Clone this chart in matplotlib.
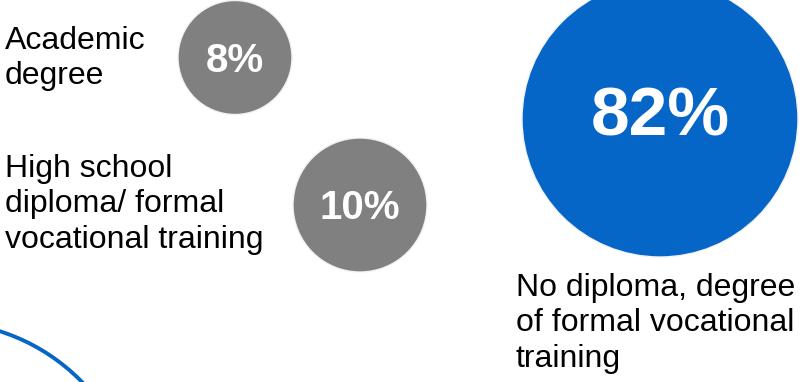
import matplotlib
matplotlib.use("Agg")
import matplotlib.pyplot as plt
from matplotlib.patches import Circle

# shares by highest qualification
categories = ["Academic\ndegree",
              "High school\ndiploma/ formal\nvocational training",
              "No diploma, degree\nof formal vocational\ntraining"]
shares = [8, 10, 82]
value_labels = ["%d%%" % v for v in shares]

# layout in pixel units (y grows downward)
centers = [(235, 57.5), (360, 205), (660, 119)]
radii = [57, 67, 138]
fill_colors = ["#808080", "#808080", "#0566C8"]
value_sizes = [29, 29, 50]
value_baselines = [72, 219, 135]
label_pos = [(5, 26), (5, 154), (516, 273)]

plt.rcParams["font.family"] = ["Liberation Sans", "DejaVu Sans"]

fig = plt.figure(figsize=(8.01, 3.82), dpi=100)
ax = fig.add_axes([0, 0, 1, 1])
ax.set_xlim(0, 801)
ax.set_ylim(382, 0)
ax.set_aspect("equal")
ax.axis("off")

for (cx, cy), r, col, val, fs, base in zip(centers, radii, fill_colors,
                                            value_labels, value_sizes, value_baselines):
    ax.add_patch(Circle((cx, cy), r, facecolor=col, edgecolor="#F2F2F2", lw=1))
    ax.text(cx, base, val, color="white", fontsize=fs, fontweight="bold",
            ha="center", va="baseline")

for (x, y), txt in zip(label_pos, categories):
    ax.text(x, y, txt, color="black", fontsize=23, ha="left", va="top",
            linespacing=1.23)

# outline of a further circle cut by the lower left corner
ax.add_patch(Circle((-60, 520), 198, facecolor="none", edgecolor="#0566C8", lw=2.8))

fig.savefig("out.png", dpi=100)
